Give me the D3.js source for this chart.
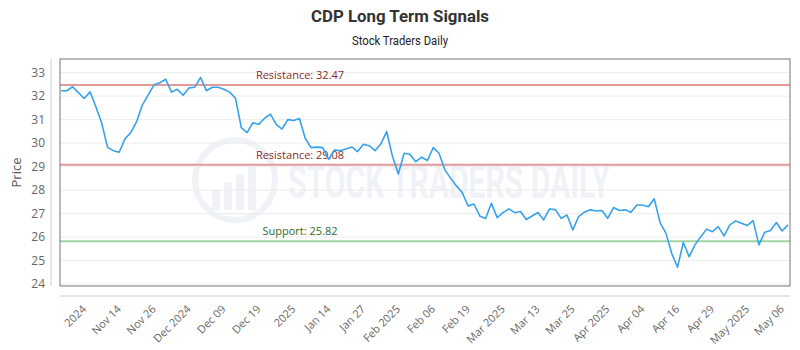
<!DOCTYPE html>
<html>
<head>
<meta charset="utf-8">
<script src="https://cdn.jsdelivr.net/npm/d3@7"></script>
<style>
  body { margin: 0; background: #fff; }
  svg { display: block; font-family: "Open Sans", "DejaVu Sans", sans-serif; }
</style>
</head>
<body>
<svg id="chart"></svg>
<script>
const width = 800;
const height = 350;

// --- Data ---
const prices = [
  32.23, 32.23, 32.40, 32.15, 31.90, 32.18, 31.55, 30.85, 29.82, 29.68,
  29.61, 30.18, 30.45, 30.91, 31.63, 32.05, 32.48, 32.57, 32.72, 32.17,
  32.29, 32.04, 32.35, 32.38, 32.80, 32.23, 32.38, 32.38, 32.29, 32.17,
  31.91, 30.66, 30.45, 30.87, 30.80, 31.06, 31.23, 30.80, 30.60, 31.00,
  30.96, 31.05, 30.20, 29.81, 29.83, 29.81, 29.31, 29.71, 29.68, 29.75,
  29.84, 29.64, 29.95, 29.89, 29.68, 29.97, 30.49, 29.43, 28.69, 29.57,
  29.53, 29.21, 29.40, 29.26, 29.81, 29.57, 28.86, 28.50, 28.18, 27.89,
  27.33, 27.41, 26.90, 26.79, 27.44, 26.83, 27.04, 27.20, 27.04, 27.09,
  26.75, 26.90, 27.05, 26.73, 27.20, 27.17, 26.80, 26.94, 26.31, 26.87,
  27.06, 27.16, 27.11, 27.13, 26.80, 27.26, 27.13, 27.16, 27.06, 27.37,
  27.37, 27.29, 27.63, 26.62, 26.17, 25.31, 24.72, 25.77, 25.17, 25.67,
  26.02, 26.34, 26.23, 26.45, 26.05, 26.52, 26.69, 26.59, 26.49, 26.70,
  25.67, 26.21, 26.28, 26.62, 26.26, 26.52
];

const tickLabels = [
  "2024", "Nov 14", "Nov 26", "Dec 2024", "Dec 09", "Dec 19", "2025",
  "Jan 14", "Jan 27", "Feb 2025", "Feb 06", "Feb 19", "Mar 2025", "Mar 13",
  "Mar 25", "Apr 2025", "Apr 04", "Apr 16", "Apr 29", "May 2025", "May 06"
];
const tickIndex = [4, 10, 16, 22, 28, 34, 40, 46, 52, 58, 64, 70, 76, 82, 88, 94, 100, 106, 112, 118, 124];

const levels = [
  { label: "Resistance: 32.47", value: 32.47, kind: "res" },
  { label: "Resistance: 29.08", value: 29.08, kind: "res" },
  { label: "Support: 25.82", value: 25.82, kind: "sup" }
];

const yTicks = [24, 25, 26, 27, 28, 29, 30, 31, 32, 33];

// --- Layout ---
const plot = { left: 60, right: 790, top: 59, bottom: 286 };

const svg = d3.select("#chart")
  .attr("width", width)
  .attr("height", height)
  .attr("viewBox", [0, 0, width, height]);

const x = d3.scaleLinear()
  .domain([0, prices.length - 1])
  .range([61, 788]);

const y = d3.scaleLinear()
  .domain([23.92, 33.58])
  .range([plot.bottom, plot.top]);

// --- Title ---
svg.append("text")
  .attr("x", width / 2)
  .attr("y", 22)
  .attr("text-anchor", "middle")
  .attr("font-family", "'Roboto', sans-serif")
  .attr("font-weight", "bold")
  .attr("font-size", 17)
  .attr("textLength", 178)
  .attr("lengthAdjust", "spacingAndGlyphs")
  .attr("fill", "#333")
  .text("CDP Long Term Signals");

svg.append("text")
  .attr("x", width / 2)
  .attr("y", 45)
  .attr("text-anchor", "middle")
  .attr("font-family", "'Roboto', sans-serif")
  .attr("font-size", 12)
  .attr("textLength", 96)
  .attr("lengthAdjust", "spacingAndGlyphs")
  .attr("fill", "#222")
  .text("Stock Traders Daily");

// --- Watermark ---
const gMark = svg.append("g").attr("opacity", 0.07);
gMark.append("circle")
  .attr("cx", 235).attr("cy", 180).attr("r", 40)
  .attr("fill", "none").attr("stroke", "#2a5a8a").attr("stroke-width", 6);
gMark.selectAll(".wbar")
  .data([0, 1, 2, 3])
  .join("rect")
  .attr("x", d => 212 + d * 12)
  .attr("y", d => 190 - d * 8)
  .attr("width", 8)
  .attr("height", d => 20 + d * 8)
  .attr("fill", "#2a5a8a");
gMark.append("text")
  .attr("x", 288).attr("y", 198)
  .attr("font-family", "'Roboto', sans-serif")
  .attr("font-weight", "bold")
  .attr("font-size", 46)
  .attr("textLength", 322)
  .attr("lengthAdjust", "spacingAndGlyphs")
  .attr("fill", "#2a5a8a")
  .text("STOCK TRADERS DAILY");

// --- Grid ---
svg.append("g")
  .selectAll("line")
  .data(yTicks)
  .join("line")
  .attr("x1", plot.left).attr("x2", plot.right)
  .attr("y1", d => y(d)).attr("y2", d => y(d))
  .attr("stroke", "#ececec")
  .attr("stroke-width", 1);

// --- Y axis ---
const yAxis = svg.append("g")
  .attr("transform", "translate(51,0)")
  .call(d3.axisLeft(y).tickValues(yTicks).tickSize(0).tickPadding(6));
yAxis.select(".domain").attr("stroke", "#ccc")
  .attr("d", `M0,${plot.top}V${plot.bottom}`);
yAxis.selectAll("text")
  .attr("font-family", "'Open Sans', sans-serif")
  .attr("font-size", 12)
  .attr("fill", "#666");

svg.append("text")
  .attr("transform", `translate(21,${(plot.top + plot.bottom) / 2}) rotate(-90)`)
  .attr("text-anchor", "middle")
  .attr("font-family", "'Open Sans', sans-serif")
  .attr("font-size", 13)
  .attr("fill", "#555")
  .text("Price");

// --- X axis ---
const xAxis = svg.append("g")
  .attr("transform", "translate(0,296)")
  .call(d3.axisBottom(x)
    .tickValues(tickIndex)
    .tickSize(0)
    .tickFormat((d, i) => tickLabels[i]));
xAxis.select(".domain").attr("stroke", "#ccc")
  .attr("d", `M${plot.left},0H${plot.right}`);
xAxis.selectAll("text")
  .attr("font-family", "'Open Sans', sans-serif")
  .attr("font-size", 11)
  .attr("fill", "#666")
  .attr("text-anchor", "end")
  .attr("dx", "-0.75em")
  .attr("dy", "0.75em")
  .attr("transform", "rotate(-45)");

// --- Level lines ---
const levelColor = { res: "#e49a9a", sup: "#9fd39f" };
const labelColor = { res: "#8b2a2a", sup: "#2e6b2e" };

svg.append("g")
  .selectAll("line")
  .data(levels)
  .join("line")
  .attr("x1", plot.left).attr("x2", plot.right)
  .attr("y1", d => y(d.value)).attr("y2", d => y(d.value))
  .attr("stroke", d => levelColor[d.kind])
  .attr("stroke-width", 2);

svg.append("g")
  .selectAll("text")
  .data(levels)
  .join("text")
  .attr("x", 300)
  .attr("y", d => y(d.value) - 6)
  .attr("text-anchor", "middle")
  .attr("font-family", "'Open Sans', sans-serif")
  .attr("font-size", 11)
  .attr("fill", d => labelColor[d.kind])
  .text(d => d.label);

// --- Price line ---
const line = d3.line()
  .x((d, i) => x(i))
  .y(d => y(d));

svg.append("path")
  .datum(prices)
  .attr("fill", "none")
  .attr("stroke", "#36a2eb")
  .attr("stroke-width", 1.6)
  .attr("stroke-linejoin", "round")
  .attr("d", line);

// --- Plot border ---
svg.append("rect")
  .attr("x", plot.left).attr("y", plot.top)
  .attr("width", plot.right - plot.left)
  .attr("height", plot.bottom - plot.top)
  .attr("fill", "none")
  .attr("stroke", "#777")
  .attr("stroke-width", 1);
</script>
</body>
</html>
